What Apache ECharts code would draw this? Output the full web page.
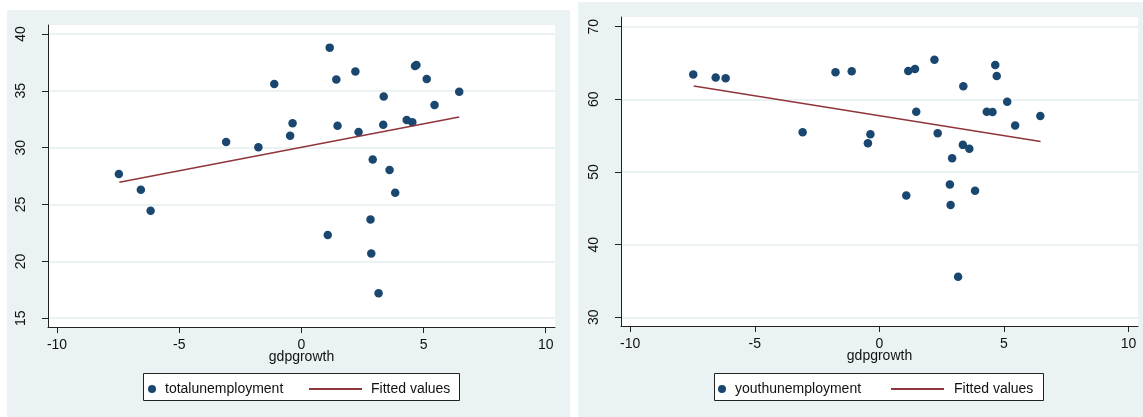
<!DOCTYPE html>
<html><head><meta charset="utf-8">
<script src="https://cdn.jsdelivr.net/npm/echarts@6/dist/echarts.min.js"></script>
<style>html,body{margin:0;padding:0;background:#fff}#c{width:1143px;height:417px}</style>
</head><body><div id="c"></div>
<script>
const gdpgrowth = [-7.47, -6.57, -6.17, -3.08, -1.76, -1.11, -0.46, -0.36, 1.08, 1.16, 1.43, 1.48, 2.21, 2.34, 2.83, 2.86, 2.92, 3.16, 3.35, 3.37, 3.61, 3.84, 4.31, 4.54, 4.65, 4.71, 5.13, 5.45, 6.46];
const totalunemployment = [27.68, 26.3, 24.45, 30.5, 30.03, 35.6, 31.05, 32.14, 22.33, 38.8, 36.0, 31.93, 36.7, 31.37, 23.69, 20.7, 28.97, 17.2, 32.02, 34.5, 28.03, 26.03, 32.43, 32.23, 37.18, 37.27, 36.04, 33.75, 34.92];
const youthunemployment = [63.4, 62.99, 62.9, 55.47, 63.73, 63.87, 53.96, 55.2, 46.76, 63.9, 64.18, 58.3, 65.46, 55.34, 48.27, 45.47, 51.9, 35.57, 53.73, 61.8, 53.18, 47.4, 58.3, 58.27, 64.73, 63.22, 59.68, 56.38, 57.72];
const fitTotalX = [-7.45, 6.46];
const fitTotalY = [26.97, 32.69];
const fitYouthX = [-7.45, 6.47];
const fitYouthY = [61.84, 54.18];
const xTicks = [-10, -5, 0, 5, 10];
const yTicksTotal = [15, 20, 25, 30, 35, 40];
const yTicksYouth = [30, 40, 50, 60, 70];

const FONT = "'Liberation Sans', Arial, sans-serif";
const TXT = '#111';
const DOT = '#1a476f';
const FIT = '#90353b';
const BG = '#eaf2f3';

const pairs = (xs, ys) => xs.map((x, i) => [x, ys[i]]);

function xAxis(gi) {
  return {
    type: 'value', gridIndex: gi, min: -10.37, max: 10.38,
    name: 'gdpgrowth', nameLocation: 'middle', nameGap: 23, nameMoveOverlap: false,
    nameTextStyle: {fontFamily: FONT, fontSize: 14, color: TXT},
    axisLine: {show: true, onZero: false, lineStyle: {color: '#222', width: 1}},
    axisTick: {show: true, length: 6, customValues: xTicks, lineStyle: {color: '#222'}},
    axisLabel: {customValues: xTicks, margin: 11, fontFamily: FONT, fontSize: 14, color: TXT},
    splitLine: {show: false}
  };
}
function yAxis(gi, min, max, ticks) {
  return {
    type: 'value', gridIndex: gi, min: min, max: max,
    axisLine: {show: true, onZero: false, lineStyle: {color: '#222', width: 1}},
    axisTick: {show: true, length: 6, customValues: ticks, lineStyle: {color: '#222'}},
    axisLabel: {customValues: ticks, rotate: 90, margin: 20, fontFamily: FONT, fontSize: 14, color: TXT},
    splitLine: {show: true, lineStyle: {color: BG, width: 2}}
  };
}
function legend(left, name, icon, w, h, pad) {
  return {
    left: left, top: 382, orient: 'horizontal', padding: 0,
    itemWidth: w, itemHeight: h, selectedMode: false,
    data: [{name: name, icon: icon}],
    textStyle: {fontFamily: FONT, fontSize: 14, color: TXT, padding: [0, 0, 0, pad]}
  };
}

const option = {
  animation: false,
  backgroundColor: '#fff',
  graphic: [
    {type: 'rect', z: -10, shape: {x: 7, y: 10, width: 563, height: 407}, style: {fill: BG}},
    {type: 'rect', z: -10, shape: {x: 578, y: 2, width: 565, height: 415}, style: {fill: BG}},
    {type: 'rect', z: -9, shape: {x: 48, y: 25, width: 507, height: 302}, style: {fill: '#fff'}},
    {type: 'rect', z: -9, shape: {x: 621, y: 17, width: 517, height: 309}, style: {fill: '#fff'}},
    {type: 'rect', z: -8, shape: {x: 143.5, y: 373.5, width: 316, height: 27}, style: {fill: '#fff', stroke: '#222', lineWidth: 1}},
    {type: 'rect', z: -8, shape: {x: 714.5, y: 373.5, width: 329, height: 27}, style: {fill: '#fff', stroke: '#222', lineWidth: 1}}
  ],
  grid: [
    {left: 48, top: 25, width: 507, height: 302},
    {left: 621, top: 17, width: 517, height: 309}
  ],
  xAxis: [xAxis(0), xAxis(1)],
  yAxis: [yAxis(0, 14.23, 40.79, yTicksTotal), yAxis(1, 28.8, 71.33, yTicksYouth)],
  legend: [
    legend(148, 'totalunemployment', 'circle', 10, 8, 3),
    legend(309, 'Fitted values', 'rect', 53, 2, 4),
    legend(718, 'youthunemployment', 'circle', 10, 8, 3),
    legend(891, 'Fitted values', 'rect', 53, 2, 5)
  ],
  series: [
    {name: 'totalunemployment', type: 'scatter', xAxisIndex: 0, yAxisIndex: 0, symbolSize: 8.5,
     itemStyle: {color: DOT, opacity: 1}, data: pairs(gdpgrowth, totalunemployment)},
    {name: 'Fitted values', type: 'line', xAxisIndex: 0, yAxisIndex: 0, showSymbol: false, symbol: 'none',
     lineStyle: {color: FIT, width: 1.5}, itemStyle: {color: FIT}, data: pairs(fitTotalX, fitTotalY)},
    {name: 'youthunemployment', type: 'scatter', xAxisIndex: 1, yAxisIndex: 1, symbolSize: 8.5,
     itemStyle: {color: DOT, opacity: 1}, data: pairs(gdpgrowth, youthunemployment)},
    {name: 'Fitted values', type: 'line', xAxisIndex: 1, yAxisIndex: 1, showSymbol: false, symbol: 'none',
     lineStyle: {color: FIT, width: 1.5}, itemStyle: {color: FIT}, data: pairs(fitYouthX, fitYouthY)}
  ]
};
const chart = echarts.init(document.getElementById('c'), null, {renderer: 'canvas'});
chart.setOption(option);
</script></body></html>
